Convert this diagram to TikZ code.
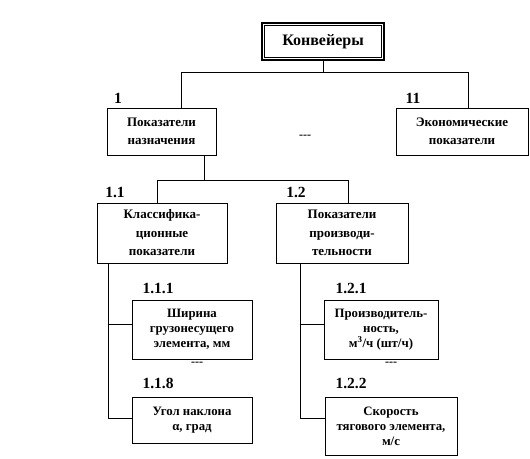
\documentclass[tikz,border=0pt]{standalone}
\usepackage{fontspec}
\setmainfont{Liberation Serif}
\usetikzlibrary{shadows}
\tikzset{
  box/.style={draw, line width=0.8pt, fill=white, align=center, inner sep=1pt,
    font=\bfseries\fontsize{13}{18.5}\selectfont,
    drop shadow={shadow xshift=1.2pt, shadow yshift=-1.2pt, fill=black!45, opacity=1}},
  tight/.style={font=\bfseries\fontsize{12.8}{15}\selectfont},
  topbox/.style={draw, line width=1.8pt, fill=white, align=center,
    font=\bfseries\fontsize{16}{18}\selectfont, minimum width=122pt, minimum height=37pt},
  lab/.style={font=\bfseries\fontsize{15.5}{15.5}\selectfont, inner sep=0pt},
  dashmark/.style={font=\bfseries\fontsize{12}{12}\selectfont, inner sep=0pt},
  link/.style={line width=0.7pt}
}
\begin{document}
\begin{tikzpicture}[x=1pt,y=-1pt]
\useasboundingbox (0,0) rectangle (530,458);
% top
\node[topbox] (n0) at (323,41.5) {Конвейеры};
\draw[line width=0.8pt] ([shift={(3.5pt,-3.5pt)}]n0.north west) rectangle ([shift={(-3.5pt,3.5pt)}]n0.south east);
% level 1
\node[box, minimum width=109pt, minimum height=47pt] (n1) at (161.5,131.5) {Показатели\\назначения};
\node[box, minimum width=132pt, minimum height=47pt] (n11) at (462,131.5) {Экономические\\показатели};
\node[lab] (l1) at (118,98) {1};
\node[lab] (l11) at (413,98) {11};
\node[dashmark] (d0) at (305,137) {-{}-{}-};
% level 2
\node[box, minimum width=130pt, minimum height=60pt] (n1a) at (162,233) {Классифика-\\ционные\\показатели};
\node[box, minimum width=132pt, minimum height=60pt] (n1b) at (342,233) {Показатели\\производи-\\тельности};
\node[lab] (l1a) at (115,192) {1.1};
\node[lab] (l1b) at (296,192) {1.2};
% level 3 left
\node[box, tight, minimum width=120pt, minimum height=59pt] (n111) at (192,329.5) {Ширина\\грузонесущего\\элемента, мм};
\node[box, tight, minimum width=120pt, minimum height=46pt] (n118) at (192,420) {Угол наклона\\α, град};
\node[lab] (l111) at (158,288) {1.1.1};
\node[lab] (l118) at (158,383) {1.1.8};
\node[dashmark] (d1) at (197,364) {-{}-{}-};
% level 3 right
\node[box, tight, minimum width=114pt, minimum height=59pt] (n121) at (381,329.5) {Производитель-\\ность,\\м\textsuperscript{3}/ч (шт/ч)};
\node[box, tight, minimum width=132pt, minimum height=58pt] (n122) at (391,426) {Скорость\\тягового элемента,\\м/с};
\node[lab] (l121) at (351,288) {1.2.1};
\node[lab] (l122) at (351,383) {1.2.2};
\node[dashmark] (d2) at (391,364) {-{}-{}-};
% connectors
\coordinate (busL) at (181,72);
\coordinate (busR) at (468,72);
\draw[link] (n0.south) -- (n0.south |- busL);
\draw[link] (n1.north -| busL) -- (busL) -- (busR) -- (n11.north -| busR);
\coordinate (drop1) at (204,180);
\coordinate (bus2L) at (157,180);
\coordinate (bus2R) at (348,180);
\draw[link] (n1.south -| drop1) -- (drop1);
\draw[link] (n1a.north -| bus2L) -- (bus2L) -- (bus2R) -- (n1b.north -| bus2R);
\coordinate (tLa) at (108,324);
\coordinate (tLb) at (108,418);
\draw[link] (n1a.south -| tLb) -- (tLb) -- (tLb -| n118.west);
\draw[link] (tLa) -- (tLa -| n111.west);
\coordinate (tRa) at (300,324);
\coordinate (tRb) at (300,418);
\draw[link] (n1b.south -| tRb) -- (tRb) -- (tRb -| n122.west);
\draw[link] (tRa) -- (tRa -| n121.west);
\end{tikzpicture}
\end{document}
